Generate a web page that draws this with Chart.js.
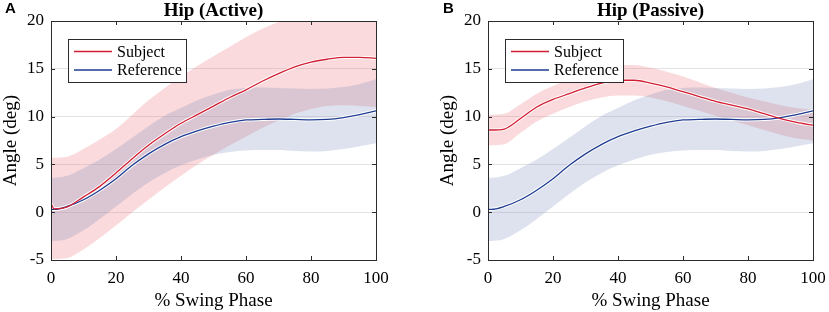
<!DOCTYPE html>
<html><head><meta charset="utf-8">
<script src="https://cdn.jsdelivr.net/npm/chart.js@4.4.1/dist/chart.umd.min.js"></script>
<style>
html,body{margin:0;padding:0;background:#fff;}
#wrap{position:relative;width:829px;height:312px;}
#cA{position:absolute;left:0;top:0;}
#cB{position:absolute;left:414px;top:0;}
</style></head>
<body><div id="wrap"><canvas id="cA" width="414" height="312"></canvas><canvas id="cB" width="415" height="312"></canvas></div>
<script>
const phase = [0,1,5,10,15,20,25,30,35,40,45,50,55,60,65,70,75,80,85,90,95,100];
const xTicks = [0,20,40,60,80,100];
const yTicks = [-5,0,5,10,15,20];
const seriesNames = ['Subject','Reference'];
const panelTitles = ['Hip (Active)','Hip (Passive)'];
const panelLetters = ['A','B'];

// Panel A
const subjActiveMean  = [0.9,0.35,0.55,1.6,2.7,4.1,5.6,7.0,8.2,9.3,10.2,11.1,12.0,12.8,13.7,14.5,15.2,15.7,16.0,16.2,16.2,16.1];
const subjActiveUpper = [5.7,5.7,5.8,6.6,7.6,8.7,10.2,11.7,13.0,14.2,15.3,16.3,17.3,18.3,19.2,19.9,20.5,21,21,21,21,21];
const subjActiveLower = [-4.9,-4.9,-4.8,-3.9,-2.7,-1.4,0.0,1.3,2.6,3.8,5.0,6.0,7.0,7.9,8.8,9.6,10.3,10.8,11.1,11.2,11.1,11.0];
// Reference (same in both panels)
const refMean  = [0.3,0.3,0.6,1.3,2.3,3.5,4.9,6.1,7.1,7.9,8.5,9.0,9.4,9.65,9.7,9.75,9.7,9.65,9.7,9.9,10.2,10.6];
const refUpper = [3.6,3.6,3.8,4.6,5.5,6.6,7.8,9.0,10.1,10.9,11.7,12.3,12.8,13.0,13.05,13.0,12.95,12.9,12.95,13.1,13.4,13.9];
const refLower = [-3.0,-3.0,-2.8,-1.9,-0.7,0.6,1.9,3.1,4.1,4.9,5.5,6.0,6.3,6.45,6.5,6.5,6.4,6.35,6.4,6.6,6.9,7.2];
// Panel B
const subjPassiveMean  = [8.6,8.6,8.7,9.8,11.0,11.8,12.4,13.0,13.5,13.8,13.8,13.5,13.1,12.6,12.1,11.6,11.2,10.8,10.3,9.8,9.4,9.1];
const subjPassiveUpper = [10.2,10.2,10.3,11.3,12.4,13.2,13.9,14.6,15.1,15.4,15.4,15.1,14.7,14.2,13.6,13.0,12.5,12.0,11.6,11.2,10.9,10.7];
const subjPassiveLower = [7.0,7.0,7.1,8.3,9.5,10.3,11.0,11.6,12.0,12.2,12.2,12.0,11.6,11.1,10.6,10.1,9.6,9.1,8.6,8.1,7.7,7.5];

const RED = 'rgb(210,30,50)', BLUE = 'rgb(30,60,145)';
const PINK = 'rgba(235,107,115,0.25)', LBLUE = 'rgba(123,139,187,0.25)';
const SERIF = '"Liberation Serif","Times New Roman",serif';

function pts(arr){ return phase.map((x,i)=>({x:x,y:arr[i]})); }

function makeChart(id, sMean, sUp, sLo, idx, leftPad, yAxisW, rightPad){
  const base = {pointRadius:0, tension:0.4, cubicInterpolationMode:'monotone'};
  const datasets = [
    Object.assign({label:'_sUp', data:pts(sUp), borderWidth:0, borderColor:'rgba(0,0,0,0)', backgroundColor:PINK, fill:'+1', order:4}, base),
    Object.assign({label:'_sLo', data:pts(sLo), borderWidth:0, borderColor:'rgba(0,0,0,0)', fill:false, order:4}, base),
    Object.assign({label:'_rUp', data:pts(refUpper), borderWidth:0, borderColor:'rgba(0,0,0,0)', backgroundColor:LBLUE, fill:'+1', order:3}, base),
    Object.assign({label:'_rLo', data:pts(refLower), borderWidth:0, borderColor:'rgba(0,0,0,0)', fill:false, order:3}, base),
    Object.assign({label:'_haloS', data:pts(sMean), borderWidth:3.2, borderColor:'#fff', fill:false, order:2}, base),
    Object.assign({label:'_haloR', data:pts(refMean), borderWidth:3.2, borderColor:'#fff', fill:false, order:2}, base),
    Object.assign({label:seriesNames[0], data:pts(sMean), borderWidth:1.3, borderColor:RED, fill:false, order:1}, base),
    Object.assign({label:seriesNames[1], data:pts(refMean), borderWidth:1.3, borderColor:BLUE, fill:false, order:1}, base)
  ];
  const deco = {
    id:'deco',
    afterDraw(chart){
      const ctx = chart.ctx, a = chart.chartArea, xs = chart.scales.x, ys = chart.scales.y;
      ctx.save();
      ctx.strokeStyle = '#2b2b2b'; ctx.lineWidth = 1;
      ctx.strokeRect(Math.round(a.left)+0.5, Math.round(a.top)+0.5, Math.round(a.right-a.left), Math.round(a.bottom-a.top));
      const tl = 4;
      ctx.beginPath();
      xTicks.forEach(v=>{ const px = Math.round(xs.getPixelForValue(v))+0.5;
        ctx.moveTo(px, a.bottom); ctx.lineTo(px, a.bottom-tl);
        ctx.moveTo(px, a.top); ctx.lineTo(px, a.top+tl); });
      yTicks.forEach(v=>{ const py = Math.round(ys.getPixelForValue(v))+0.5;
        ctx.moveTo(a.left, py); ctx.lineTo(a.left+tl, py);
        ctx.moveTo(a.right, py); ctx.lineTo(a.right-tl, py); });
      ctx.stroke();
      ctx.fillStyle = '#000';
      ctx.font = 'bold 19px ' + SERIF;
      ctx.textAlign = 'center'; ctx.textBaseline = 'middle';
      ctx.fillText(panelTitles[idx], (a.left+a.right)/2, 11);
      ctx.font = 'bold 15px "Liberation Sans",Arial,sans-serif';
      ctx.textAlign = 'left';
      ctx.fillText(panelLetters[idx], idx===0?5:29, 9);
      const lx = a.left + 17, ly = 39, lw = 118, lh = 43;
      ctx.fillStyle = '#fff';
      ctx.fillRect(lx, ly, lw, lh);
      ctx.strokeStyle = '#2b2b2b';
      ctx.strokeRect(lx+0.5, ly+0.5, lw, lh);
      const cols = [RED, BLUE];
      seriesNames.forEach((n,i)=>{
        const yy = ly + 12.5 + i*18.5;
        ctx.strokeStyle = cols[i]; ctx.lineWidth = 1.3;
        ctx.beginPath(); ctx.moveTo(lx+6, yy); ctx.lineTo(lx+44, yy); ctx.stroke();
        ctx.fillStyle = '#000';
        ctx.font = '16px ' + SERIF;
        ctx.textAlign = 'left'; ctx.textBaseline = 'middle';
        ctx.fillText(n, lx+49, yy+1);
      });
      ctx.restore();
    }
  };
  return new Chart(document.getElementById(id), {
    type:'line',
    data:{datasets:datasets},
    options:{
      responsive:false, animation:false, devicePixelRatio:1,
      layout:{padding:{top:21, right:rightPad, left:leftPad, bottom:0}},
      plugins:{legend:{display:false}, tooltip:{enabled:false}, title:{display:false}},
      scales:{
        x:{type:'linear', min:0, max:100,
           afterBuildTicks(s){ s.ticks = xTicks.map(v=>({value:v})); },
           afterFit(s){ s.height = 52; s.paddingLeft = 0; s.paddingRight = 0; },
           grid:{display:false, drawTicks:false}, border:{display:false},
           ticks:{color:'#000', font:{family:SERIF, size:17}, padding:8, maxRotation:0},
           title:{display:true, text:'% Swing Phase', color:'#000', font:{family:SERIF, size:19}, padding:{top:0,bottom:0}}},
        y:{type:'linear', min:-5, max:20,
           afterBuildTicks(s){ s.ticks = yTicks.map(v=>({value:v})); },
           afterFit(s){ s.width = yAxisW; s.paddingTop = 0; s.paddingBottom = 0; },
           grid:{color:(c)=> (c.tick && (c.tick.value===-5||c.tick.value===20)) ? 'rgba(0,0,0,0)' : '#e3e3e3', drawTicks:false, lineWidth:1},
           border:{display:false},
           ticks:{color:'#000', font:{family:SERIF, size:17}, padding:7},
           title:{display:true, text:'Angle (deg)', color:'#000', font:{family:SERIF, size:19}, padding:{top:0,bottom:2}}}
      }
    },
    plugins:[deco]
  });
}
makeChart('cA', subjActiveMean, subjActiveUpper, subjActiveLower, 0, 0, 51, 38);
makeChart('cB', subjPassiveMean, subjPassiveUpper, subjPassiveLower, 1, 23, 51, 16);
</script>
</body></html>
